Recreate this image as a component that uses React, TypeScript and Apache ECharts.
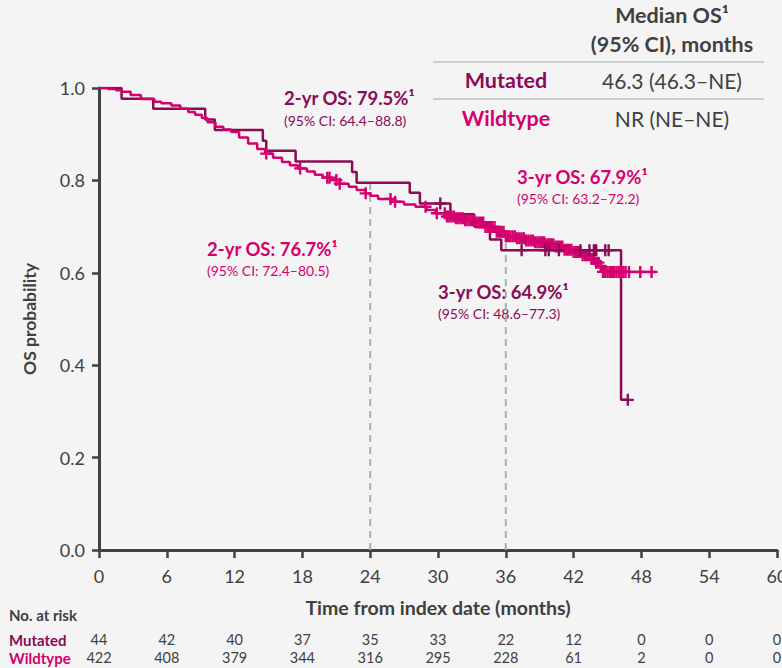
import React, { useEffect, useRef } from "react";
import * as echarts from "echarts";

const monthTicks = [0, 6, 12, 18, 24, 30, 36, 42, 48, 54, 60];
const mutatedAtRisk = [44, 42, 40, 37, 35, 33, 22, 12, 0, 0, 0];
const wildtypeAtRisk = [422, 408, 379, 344, 316, 295, 228, 61, 2, 0, 0];

// Kaplan–Meier steps: [month, survival from that month onward]
const mutatedSteps: [number, number][] = [
  [0, 1.0], [2.0, 0.977], [4.8, 0.955], [9.4, 0.932], [10.25, 0.909],
  [14.5, 0.886], [14.8, 0.864], [17.4, 0.841], [22.4, 0.818], [22.8, 0.795],
  [27.5, 0.773], [28.4, 0.75], [31.1, 0.727], [33.2, 0.7], [34.6, 0.672],
  [35.6, 0.649], [46.2, 0.325], [46.8, 0.325],
];
const mutatedCensored = [30.2, 37.4, 39.5, 39.8, 40.7, 42.6, 43.4, 43.8, 44.0, 44.8, 45.1, 46.8];

const wildtypeSteps: [number, number][] = [
  [0, 1.0], [0.8, 0.998], [1.5, 0.995], [2.0, 0.992], [2.8, 0.985], [3.7, 0.976],
  [4.9, 0.97], [5.5, 0.967], [6.4, 0.962], [7.2, 0.955], [7.9, 0.948], [8.5, 0.942],
  [9.1, 0.935], [9.6, 0.926], [10.3, 0.916], [11.0, 0.91], [11.7, 0.905], [12.4, 0.893],
  [13.2, 0.88], [14.0, 0.868], [14.7, 0.858], [15.4, 0.849], [16.2, 0.84], [16.9, 0.833],
  [17.6, 0.826], [18.4, 0.819], [19.1, 0.812], [19.8, 0.806], [20.6, 0.801], [21.3, 0.793],
  [22.1, 0.786], [22.8, 0.779], [23.6, 0.772], [24.0, 0.767], [24.7, 0.76], [25.9, 0.754],
  [27.0, 0.748], [28.0, 0.743], [29.0, 0.736], [29.8, 0.729], [30.7, 0.722], [31.5, 0.718],
  [32.4, 0.714], [33.3, 0.709], [34.2, 0.699], [35.1, 0.689], [36.0, 0.679], [36.9, 0.675],
  [37.8, 0.67], [38.6, 0.666], [39.5, 0.662], [40.3, 0.657], [41.2, 0.65], [42.0, 0.645],
  [42.8, 0.638], [43.5, 0.63], [44.0, 0.622], [44.4, 0.615], [44.5, 0.602], [49.3, 0.602],
];
const wildtypeCensored = [
  14.8, 17.8, 20.2, 20.4, 21.0, 21.3, 23.6, 25.8, 26.2, 28.9, 29.9,
  30.6, 30.8, 31.0, 31.2, 31.4, 31.6, 31.8, 32.0, 32.2, 32.4, 32.6, 32.8,
  33.0, 33.2, 33.4, 33.6, 33.8, 34.0, 34.2, 34.4, 34.6, 34.8, 35.0, 35.2,
  35.4, 35.6, 35.8, 36.0, 36.2, 36.4, 36.6, 36.8, 37.0, 37.2, 37.4, 37.6,
  37.8, 38.0, 38.2, 38.4, 38.6, 38.8, 39.0, 39.2, 39.4, 39.6, 39.8, 40.0,
  40.2, 40.4, 40.6, 40.8, 41.0, 41.2, 41.4, 41.6, 41.8, 42.0, 42.2, 42.4,
  42.6, 42.8, 43.0, 43.2, 43.4, 43.6, 43.8, 44.0, 44.2, 44.4,
  44.6, 44.8, 45.0, 45.2, 45.4, 45.6, 45.8, 46.0, 46.2, 46.4, 46.6, 46.9,
  47.9, 48.9,
];

const MUT = "#8a0b56";
const WT = "#d4006e";
const GRAY = "#404040";
const AXIS = "#3d4242";
const FONT = "Lato, 'Open Sans', sans-serif";

function survAt(steps: [number, number][], t: number): number {
  let s = steps[0][1];
  for (const [x, y] of steps) {
    if (x <= t) s = y;
  }
  return s;
}

const plus = "path://M4,0H6V4H10V6H6V10H4V6H0V4H4Z";

export default function App() {
  const ref = useRef<HTMLDivElement>(null);
  useEffect(() => {
    if (!ref.current) return;
    const chart = echarts.init(ref.current, null, { renderer: "svg" });
    const riskAxis = (vals: number[], offset: number) => ({
      type: "value",
      min: 0,
      max: 60,
      interval: 6,
      position: "bottom",
      offset,
      axisLine: { show: false },
      axisTick: { show: false },
      splitLine: { show: false },
      axisLabel: {
        margin: 0,
        fontFamily: FONT,
        fontSize: 14.5,
        color: GRAY,
        showMinLabel: true,
        showMaxLabel: true,
        formatter: (v: number) => String(vals[monthTicks.indexOf(v)] ?? ""),
      },
    });
    const txt = (x: number, y: number, text: string, o: any = {}) => ({
      type: "text",
      x,
      y,
      style: {
        text,
        fontFamily: FONT,
        fontSize: 18.5,
        fill: GRAY,
        textVerticalAlign: "middle",
        ...o,
      },
    });
    const option: any = {
      animation: false,
      backgroundColor: "#f4f4f4",
      grid: { left: 99, right: 5, top: 88, bottom: 118, outerBoundsMode: "none", containLabel: false },
      xAxis: [
        {
          type: "value",
          min: 0,
          max: 60,
          interval: 6,
          name: "Time from index date (months)",
          nameLocation: "middle",
          nameGap: 47,
          nameTextStyle: { fontFamily: FONT, fontSize: 19.5, fontWeight: "bold", color: GRAY },
          axisLine: { lineStyle: { color: AXIS, width: 3 } },
          axisTick: { show: true, length: 8, lineStyle: { color: AXIS, width: 2.5 } },
          splitLine: { show: false },
          axisLabel: {
            margin: 17,
            fontFamily: FONT,
            fontSize: 18,
            color: GRAY,
            showMinLabel: true,
            showMaxLabel: true,
          },
        },
        riskAxis(mutatedAtRisk, 82),
        riskAxis(wildtypeAtRisk, 100),
      ],
      yAxis: {
        type: "value",
        min: 0,
        max: 1,
        interval: 0.2,
        name: "OS probability",
        nameLocation: "middle",
        nameGap: 61,
        nameTextStyle: { fontFamily: FONT, fontSize: 17.5, fontWeight: "bold", color: GRAY },
        axisLine: { show: true, lineStyle: { color: AXIS, width: 3 } },
        axisTick: { show: true, length: 7, lineStyle: { color: AXIS, width: 2.5 } },
        splitLine: { show: false },
        axisLabel: {
          margin: 14,
          fontFamily: FONT,
          fontSize: 18,
          color: GRAY,
          formatter: (v: number) => v.toFixed(1),
        },
      },
      series: [
        {
          type: "line",
          data: [[24, 0], [24, survAt(mutatedSteps, 24)]],
          symbol: "none",
          lineStyle: { color: "#a1b4ae", width: 2, type: [7, 5] },
          z: 1,
        },
        {
          type: "line",
          data: [[36, 0], [36, survAt(wildtypeSteps, 36)]],
          symbol: "none",
          lineStyle: { color: "#a1b4ae", width: 2, type: [7, 5] },
          z: 1,
        },
        {
          type: "line",
          step: "end",
          data: mutatedSteps,
          symbol: "none",
          lineStyle: { color: MUT, width: 2.5 },
          z: 2,
        },
        {
          type: "line",
          step: "end",
          data: wildtypeSteps,
          symbol: "none",
          lineStyle: { color: WT, width: 2.5 },
          z: 3,
        },
        {
          type: "scatter",
          data: wildtypeCensored.map((t) => [t, survAt(wildtypeSteps, t)]),
          symbol: plus,
          symbolSize: 12,
          itemStyle: { color: WT, opacity: 1 },
          z: 4,
        },
        {
          type: "scatter",
          data: mutatedCensored.map((t) => [t, survAt(mutatedSteps, t)]),
          symbol: plus,
          symbolSize: 12,
          itemStyle: { color: MUT, opacity: 1 },
          z: 5,
        },
      ],
      graphic: [
        txt(672, 15, "Median OS¹", { fontWeight: "bold", fontSize: 21.5, textAlign: "center" }),
        txt(672, 44, "(95% CI), months", { fontWeight: "bold", fontSize: 21.5, textAlign: "center" }),
        { type: "line", shape: { x1: 433, y1: 62, x2: 764, y2: 62 }, style: { stroke: "#b9c6c2", lineWidth: 1.5 } },
        { type: "line", shape: { x1: 433, y1: 99, x2: 764, y2: 99 }, style: { stroke: "#b9c6c2", lineWidth: 1.5 } },
        txt(506, 80, "Mutated", { fontWeight: "bold", fontSize: 21.5, fill: MUT, textAlign: "center" }),
        txt(672, 80, "46.3 (46.3–NE)", { fontSize: 21, textAlign: "center" }),
        txt(506, 118, "Wildtype", { fontWeight: "bold", fontSize: 21.5, fill: WT, textAlign: "center" }),
        txt(672, 118, "NR (NE–NE)", { fontSize: 21, textAlign: "center" }),

        txt(284, 98, "2-yr OS: 79.5%¹", { fontWeight: "bold", fill: MUT }),
        txt(284, 120, "(95% CI: 64.4–88.8)", { fontSize: 14, fill: MUT }),
        txt(517, 177, "3-yr OS: 67.9%¹", { fontWeight: "bold", fill: WT }),
        txt(517, 198, "(95% CI: 63.2–72.2)", { fontSize: 14, fill: WT }),
        txt(207, 249, "2-yr OS: 76.7%¹", { fontWeight: "bold", fill: WT }),
        txt(207, 270, "(95% CI: 72.4–80.5)", { fontSize: 14, fill: WT }),
        txt(438, 292, "3-yr OS: 64.9%¹", { fontWeight: "bold", fill: MUT }),
        txt(438, 313, "(95% CI: 48.6–77.3)", { fontSize: 14, fill: MUT }),

        txt(9, 615, "No. at risk", { fontWeight: "bold", fontSize: 15 }),
        txt(9, 640, "Mutated", { fontWeight: "bold", fontSize: 15, fill: MUT }),
        txt(9, 658, "Wildtype", { fontWeight: "bold", fontSize: 15, fill: WT }),
      ],
    };
    chart.setOption(option);
    return () => chart.dispose();
  }, []);
  return (
    <div
      ref={ref}
      style={{ position: "fixed", left: 0, top: 0, width: 782, height: 668, background: "#f4f4f4" }}
    />
  );
}
